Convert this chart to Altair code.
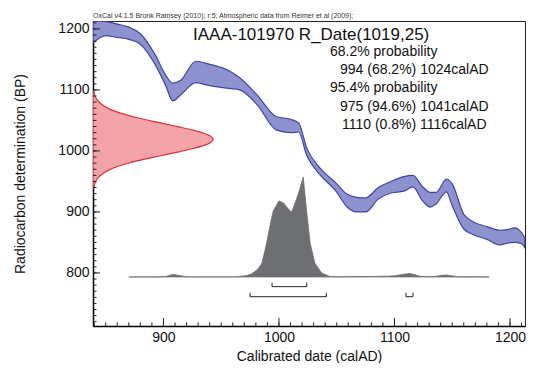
import altair as alt
import pandas as pd

FONT = "Liberation Sans"

# ---- calibration curve band (IntCal09), calAD vs BP ----
cal_date = [839, 850, 860, 870, 880, 893, 902, 908, 915, 928, 940, 955, 966, 981, 998, 1010, 1017, 1024, 1035, 1049,
            1059, 1067, 1075, 1086, 1097, 1108, 1116, 1124, 1131, 1136, 1145, 1150, 1160, 1168, 1180, 1191, 1198, 1204, 1210, 1213]
cal_upper = [1213, 1212, 1208, 1203, 1192, 1157, 1124, 1111, 1116, 1147, 1142, 1133, 1120, 1092, 1056, 1052, 1046, 1005, 973, 948,
             929, 924, 923, 940, 950, 958, 960, 942, 932, 932, 954, 946, 896, 884, 876, 870, 871, 874, 866, 857]
cal_lower = [1177, 1189, 1186, 1183, 1175, 1141, 1107, 1082, 1092, 1112, 1107, 1103, 1100, 1076, 1034, 1030, 1031, 993, 962, 935,
             908, 900, 900, 921, 931, 934, 941, 919, 908, 913, 933, 910, 872, 863, 855, 846, 849, 850, 848, 841]

# ---- radiocarbon measurement 1019 +/- 25 BP (relative density) ----
red_bp = [939, 944, 949, 954, 959, 964, 969, 974, 979, 984, 989, 994, 999, 1004, 1009, 1014, 1019,
          1024, 1029, 1034, 1039, 1044, 1049, 1054, 1059, 1064, 1069, 1074, 1079, 1084, 1089, 1094, 1099]
red_p = [0.006, 0.011, 0.020, 0.034, 0.056, 0.089, 0.135, 0.198, 0.278, 0.375, 0.487, 0.607, 0.726, 0.835, 0.923, 0.980, 1.0,
         0.980, 0.923, 0.835, 0.726, 0.607, 0.487, 0.375, 0.278, 0.198, 0.135, 0.089, 0.056, 0.034, 0.020, 0.011, 0.006]

# ---- calibrated distribution (relative probability, % of max) ----
post_date = [870, 895, 902, 908, 914, 919, 925, 960, 966, 972, 976, 981, 985, 988, 990, 992, 995, 998, 1000, 1004,
             1008, 1011, 1014, 1017, 1021, 1024, 1027, 1031, 1037, 1044, 1050, 1060, 1080, 1095, 1102, 1108, 1113,
             1118, 1122, 1128, 1135, 1141, 1145, 1149, 1155, 1165, 1182]
post_p = [0, 0, 0.5, 2.5, 1.5, 0.3, 0, 0, 0.5, 1.5, 3, 7, 13, 27, 38, 50, 66, 72, 76, 74,
          68, 65, 74, 84, 100, 65, 34, 14, 4, 0.5, 0.2, 0.3, 0.5, 0.8, 1.5, 2.8, 3.4,
          2.2, 0.6, 0.2, 0.5, 1.6, 2.0, 1.3, 0.2, 0.1, 0]

# ---- highest posterior density ranges ----
hpd68_from, hpd68_to = [994], [1024]
hpd95_from, hpd95_to = [975, 1110], [1041, 1116]

# ---- texts ----
head_title = "OxCal v4.1.5 Bronk Ramsey (2010); r:5; Atmospheric data from Reimer et al (2009);"
sample_label = "IAAA-101970 R_Date(1019,25)"
range_lines = ["68.2% probability", "994 (68.2%) 1024calAD", "95.4% probability",
               "975 (94.6%) 1041calAD", "1110 (0.8%) 1116calAD"]
x_major = [900, 1000, 1100, 1200]
y_major = [800, 900, 1000, 1100, 1200]
x_minor = list(range(840, 1211, 10))
y_minor = list(range(720, 1211, 10))

X_DOM = [839, 1213]
Y_DOM = [713, 1213]
W, H = 432, 305
BASE_BP = 793.4     # baseline of the calibrated distribution
POST_SCALE = 1.64   # BP units per percent
RED_SCALE = 104     # calendar years at peak

xs = alt.Scale(domain=X_DOM, nice=False, zero=False)
ys = alt.Scale(domain=Y_DOM, nice=False, zero=False)

ax_x = alt.Axis(values=x_major, ticks=False, grid=False, format="d",
                title="Calibrated date (calAD)", labelFontSize=14,
                titleFontSize=14, labelPadding=4, titlePadding=5,
                domainColor="#000", domainWidth=1.5, labelColor="#111",
                titleColor="#111", titleFontWeight="normal",
                labelFont=FONT, titleFont=FONT)
ax_y = alt.Axis(values=y_major, ticks=False, grid=False, format="d",
                title="Radiocarbon determination (BP)", labelFontSize=14,
                titleFontSize=14, labelPadding=4, titlePadding=30,
                domainColor="#000", domainWidth=1.5, labelColor="#111",
                titleColor="#111", titleFontWeight="normal",
                labelFont=FONT, titleFont=FONT)

cal_df = pd.DataFrame({"date": cal_date, "upper": cal_upper, "lower": cal_lower})
red_df = pd.DataFrame({"bp": red_bp, "p": red_p})
post_df = pd.DataFrame({"date": post_date, "p": post_p})

band = alt.Chart(cal_df).mark_area(
    clip=True, fill="#8d92cf", stroke="#3d46a6", strokeWidth=1.2, interpolate="monotone"
).encode(
    x=alt.X("date:Q", scale=xs, axis=ax_x),
    y=alt.Y("upper:Q", scale=ys, axis=ax_y),
    y2="lower:Q",
)

red = alt.Chart(red_df).transform_calculate(
    xr=f"{X_DOM[0]} + datum.p * {RED_SCALE}", x0=f"{X_DOM[0]}"
).mark_area(
    orient="horizontal", clip=True, fill="#f4a4a8", stroke="#d8333d", strokeWidth=1.2, interpolate="monotone"
).encode(
    y=alt.Y("bp:Q", scale=ys, axis=ax_y),
    x=alt.X("xr:Q", scale=xs, axis=ax_x),
    x2="x0:Q",
)

post = alt.Chart(post_df).transform_calculate(
    top=f"{BASE_BP} + datum.p * {POST_SCALE}", base=f"{BASE_BP}"
).mark_area(
    clip=True, fill="#6e6f72", stroke="#6e6f72", strokeWidth=0.8
).encode(
    x=alt.X("date:Q", scale=xs, axis=ax_x),
    y=alt.Y("top:Q", scale=ys, axis=ax_y),
    y2="base:Q",
)

def bracket(froms, tos, level, tick_h):
    rng = pd.DataFrame({"a": froms, "b": tos})
    ends = pd.DataFrame({"e": froms + tos})
    hor = alt.Chart(rng).mark_rule(color="#222", strokeWidth=1).encode(
        x=alt.X("a:Q", scale=xs, axis=ax_x), x2="b:Q",
        y=alt.Y(datum=level, scale=ys, axis=ax_y))
    ver = alt.Chart(ends).mark_rule(color="#222", strokeWidth=1).encode(
        x=alt.X("e:Q", scale=xs, axis=ax_x),
        y=alt.Y(datum=level, scale=ys, axis=ax_y), y2=alt.Y2(datum=level + tick_h))
    return hor + ver

br68 = bracket(hpd68_from, hpd68_to, 777.5, 6.5)
br95 = bracket(hpd95_from, hpd95_to, 761, 6.5)

def xticks(vals, ln):
    return alt.Chart(pd.DataFrame({"v": vals})).mark_rule(color="#222", strokeWidth=1).encode(
        x=alt.X("v:Q", scale=xs, axis=ax_x), y=alt.value(H), y2=alt.value(H - ln))

def yticks(vals, ln):
    return alt.Chart(pd.DataFrame({"v": vals})).mark_rule(color="#222", strokeWidth=1).encode(
        y=alt.Y("v:Q", scale=ys, axis=ax_y), x=alt.value(0), x2=alt.value(ln))

ticks = xticks(x_major, 8) + xticks(x_minor, 3.5) + yticks(y_major, 7) + yticks(y_minor, 3.5)

one = pd.DataFrame({"t": [0]})
texts = [alt.Chart(one).mark_text(text=sample_label, align="left", baseline="middle", x=100, y=14,
                                  fontSize=17, font=FONT, color="#111")]
tx = [237, 247, 237, 247, 249]
ty = [31, 49, 67, 86, 104]
for line, xx, yy in zip(range_lines, tx, ty):
    texts.append(alt.Chart(one).mark_text(text=line, align="left", baseline="middle", x=xx, y=yy,
                                          fontSize=14, font=FONT, color="#111"))

chart = alt.layer(band, red, post, br68, br95, ticks, *texts).properties(
    width=W, height=H,
    title=alt.TitleParams(text=head_title, anchor="start", frame="group", fontSize=7, fontWeight="normal",
                          color="#333", offset=2, font=FONT),
    autosize=alt.AutoSizeParams(type="none"),
    padding={"left": 85, "top": 13, "right": 1, "bottom": 37},
    background="white",
).configure_view(stroke="#222", strokeWidth=1)

chart.save("out.html", embed_options={"renderer": "svg", "actions": False})
